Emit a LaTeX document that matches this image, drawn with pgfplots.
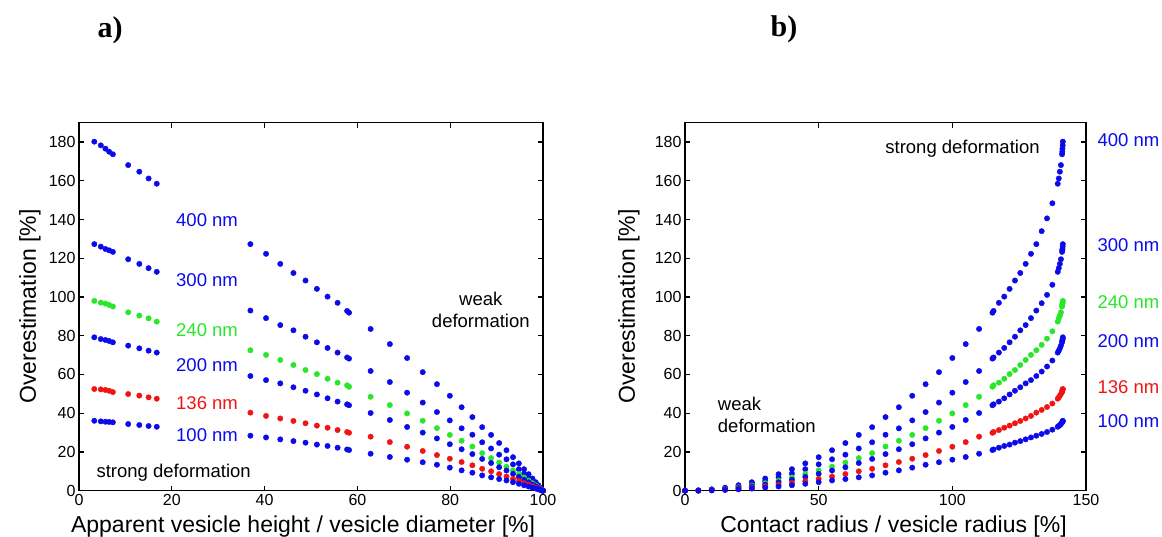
\documentclass[border=0pt]{standalone}
\usepackage{fontspec}
\setmainfont{Liberation Sans}
\newfontfamily\tnr{Liberation Serif}
\usepackage{pgfplots}
\usepackage{pgfplotstable}
\pgfplotsset{compat=1.18}
\definecolor{mblue}{RGB}{10,10,235}
\definecolor{mgreen}{RGB}{40,230,40}
\definecolor{mred}{RGB}{240,20,20}
% t = apparent height/diameter [%], a = contact radius/vesicle radius [%]
\pgfplotstableread{
t a A B C D E F
100 0 0 0 0 0 0 0
99.94 5 0.17 0.13 0.10 0.09 0.06 0.04
99.75 10 0.70 0.55 0.43 0.36 0.25 0.17
99.44 15 1.57 1.23 0.96 0.80 0.56 0.39
98.99 20 2.83 2.22 1.73 1.43 1.01 0.70
98.42 25 4.39 3.46 2.69 2.23 1.56 1.10
97.72 30 6.29 4.97 3.85 3.19 2.26 1.58
96.89 35 8.52 6.75 5.22 4.32 3.05 2.15
95.92 40 11.1 8.81 6.81 5.63 3.96 2.81
94.80 45 14.1 11.1 8.58 7.12 5.0 3.56
93.54 50 17.3 13.6 10.5 8.72 6.1 4.40
92.13 55 20.9 16.2 12.4 10.4 7.3 5.3
90.55 60 24.6 18.6 14.5 12.1 8.6 6.0
88.81 65 28.8 21.8 16.8 14.3 10.0 6.9
86.89 70 32.8 25.0 19.4 16.4 11.3 7.9
84.78 75 38.0 28.9 22.8 18.9 13.1 9.3
82.46 80 43.1 32.2 25.8 21.4 14.8 10.5
79.92 85 49.0 36.3 28.8 24.0 16.5 11.9
77.14 90 55.0 40.6 32.3 27.0 18.4 13.4
74.08 95 61.2 45.5 36.1 30.0 20.5 14.7
70.71 100 68.5 50.6 39.9 32.9 22.7 16.0
66.99 105 75.7 56.1 44.2 36.5 25.1 17.4
62.85 110 83.5 61.8 48.5 40.1 27.9 19.1
58.20 115 91.9 68.2 53.7 44.1 29.9 21.0
57.78 115.42 92.8 68.8 54.4 44.6 30.3 21.3
55.73 117.42 97.0 71.3 55.8 46.0 31.3 22.2
53.57 119.42 100.2 73.7 57.8 47.7 32.5 23.1
51.27 121.42 104.2 76.6 60.2 49.7 33.6 23.8
48.82 123.42 108.5 79.5 62.3 51.6 34.8 24.8
46.21 125.42 112.4 82.8 64.9 53.4 36.0 25.6
43.38 127.42 117.1 85.5 67.5 55.4 37.3 26.5
40.31 129.42 122.3 89.1 70.1 57.1 38.6 27.5
36.94 131.42 127.3 93.0 72.5 59.2 40.3 28.4
33.16 133.42 134.0 96.8 75.3 61.5 41.7 29.3
28.82 135.42 140.6 101.1 78.5 64.1 43.2 30.3
23.62 137.42 148.4 106.3 82.3 67.2 45.0 31.5
16.76 139.42 158.5 113.0 87.3 71.3 47.5 33.0
15.0 139.82 161.2 114.9 89.0 72.3 48.2 33.4
13.0 140.22 164.7 117.1 90.4 73.5 49.1 33.9
10.6 140.62 168.1 119.5 92.1 74.9 49.9 34.4
7.3 141.04 173.7 123.3 95.1 76.6 50.9 35.3
6.5 141.12 175.0 124.1 95.9 77.3 51.6 35.5
5.7 141.19 176.6 124.8 96.6 77.8 52.0 35.6
4.7 141.27 178.3 126.0 97.1 78.3 52.3 35.8
3.3 141.34 180.2 127.3 98.0 79.2 52.5 36.1
}\data

\pgfplotsset{
  mystyle/.style={
    scale only axis, height=368pt,
    ymin=0, ymax=190, ytick={0,20,...,180},
    tick align=inside, major tick length=5pt,
    axis line style={line width=1.6pt},
    every tick/.style={line width=1.2pt, black},
    ticklabel style={font=\fontsize{16}{19}\selectfont},
    /pgf/number format/assume math mode=true,
    label style={font=\fontsize{23}{27}\selectfont},
    clip=false,
    every axis plot/.append style={only marks, mark=*, mark size=2.7pt},
  },
}
\newcommand{\annot}{\fontsize{18.5}{22}\selectfont}

\begin{document}
\begin{tikzpicture}
\useasboundingbox (0,0) rectangle (1162pt,537pt);
\node[font=\tnr\bfseries\fontsize{30}{36}\selectfont] at (110pt,507pt) {a)};
\node[font=\tnr\bfseries\fontsize{30}{36}\selectfont] at (784pt,508pt) {b)};

\begin{axis}[mystyle, at={(79pt,46.3pt)}, anchor=south west, width=464pt,
  xmin=0, xmax=100, xtick={0,20,...,100},
  xlabel={Apparent vesicle height / vesicle diameter [\%]},
  ylabel={Overestimation [\%]},
  xlabel style={at={(axis description cs:0.483,-0.114)}, anchor=base},
  ylabel style={at={(axis description cs:-0.106,0.5)}, anchor=center},
  skip coords between index={33}{36}]
\addplot[mblue] table[x=t,y=A]{\data};
\addplot[mblue] table[x=t,y=B]{\data};
\addplot[mgreen] table[x=t,y=C]{\data};
\addplot[mblue] table[x=t,y=D]{\data};
\addplot[mred] table[x=t,y=E]{\data};
\addplot[mblue] table[x=t,y=F]{\data};
\node[font=\annot, text=mblue] at (axis cs:27.6,139.8) {400 nm};
\node[font=\annot, text=mblue] at (axis cs:27.6,108.7) {300 nm};
\node[font=\annot, text=mgreen] at (axis cs:27.6,83.0) {240 nm};
\node[font=\annot, text=mblue] at (axis cs:27.6,64.7) {200 nm};
\node[font=\annot, text=mred] at (axis cs:27.6,45.3) {136 nm};
\node[font=\annot, text=mblue] at (axis cs:27.6,28.8) {100 nm};
\node[font=\annot] at (axis cs:20.4,9.1) {strong deformation};
\node[font=\annot, align=center] at (axis cs:86.6,93.1) {weak\\deformation};
\end{axis}

\begin{axis}[mystyle, at={(685pt,46.3pt)}, anchor=south west, width=401pt,
  xmin=0, xmax=150, xtick={0,50,100,150},
  xlabel={Contact radius / vesicle radius [\%]},
  ylabel={Overestimation [\%]},
  xlabel style={at={(axis description cs:0.52,-0.114)}, anchor=base},
  ylabel style={at={(axis description cs:-0.140,0.5)}, anchor=center}]
\addplot[mblue] table[x=a,y=A]{\data};
\addplot[mblue] table[x=a,y=B]{\data};
\addplot[mgreen] table[x=a,y=C]{\data};
\addplot[mblue] table[x=a,y=D]{\data};
\addplot[mred] table[x=a,y=E]{\data};
\addplot[mblue] table[x=a,y=F]{\data};
\node[font=\annot] at (axis cs:103.8,176.8) {strong deformation};
\node[font=\annot, align=left, anchor=west] at (axis cs:11,39.2) {weak\\deformation};
\node[font=\annot, text=mblue, anchor=west] at (axis cs:153,180.9) {400 nm};
\node[font=\annot, text=mblue, anchor=west] at (axis cs:153,126.6) {300 nm};
\node[font=\annot, text=mgreen, anchor=west] at (axis cs:153,97.1) {240 nm};
\node[font=\annot, text=mblue, anchor=west] at (axis cs:153,77.1) {200 nm};
\node[font=\annot, text=mred, anchor=west] at (axis cs:153,53.5) {136 nm};
\node[font=\annot, text=mblue, anchor=west] at (axis cs:153,35.7) {100 nm};
\end{axis}
\end{tikzpicture}
\end{document}
